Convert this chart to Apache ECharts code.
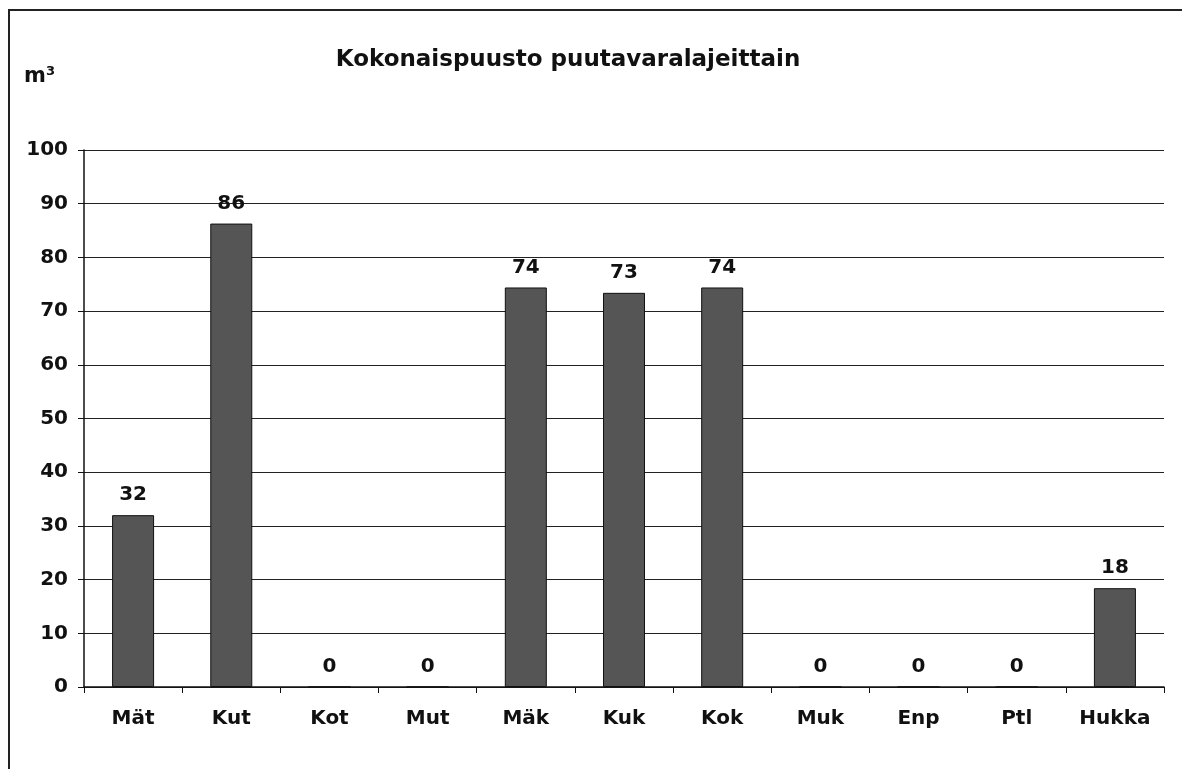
<!DOCTYPE html>
<html><head><meta charset="utf-8">
<script src="https://cdn.jsdelivr.net/npm/echarts@6/dist/echarts.min.js"></script>
<style>html,body{margin:0;padding:0;background:#fff}
#frame{position:absolute;left:8px;top:9px;width:1180px;height:765px;border-left:2px solid #222;border-top:2px solid #222;box-sizing:border-box}
#c{position:absolute;left:0;top:0;width:1182px;height:769px}</style>
</head><body><div id="frame"></div><div id="c"></div>
<script>
const categories = ['Mät','Kut','Kot','Mut','Mäk','Kuk','Kok','Muk','Enp','Ptl','Hukka'];
const values = [32.0, 86.3, 0, 0, 74.4, 73.4, 74.4, 0, 0, 0, 18.4];
const yTicks = [0,10,20,30,40,50,60,70,80,90,100];
const font = 'DejaVu Sans';
const chart = echarts.init(document.getElementById('c'));
chart.setOption({
  animation:false,
  title:{text:'Kokonaispuusto puutavaralajeittain',left:563,top:44,textAlign:'center',
    textStyle:{fontFamily:font,fontSize:23,fontWeight:'bold',color:'#111'}},
  graphic:[{type:'text',left:24,top:66,style:{text:'m³',font:'bold 21px "DejaVu Sans"',fill:'#111'}}],
  grid:{left:84,right:18,top:150,bottom:82},
  xAxis:{type:'category',data:categories,
    axisLine:{lineStyle:{color:'#111',width:1.5}},
    axisTick:{show:true,length:6,lineStyle:{color:'#111'}},
    axisLabel:{fontFamily:font,fontSize:20,fontWeight:'bold',color:'#111',margin:22}},
  yAxis:{type:'value',min:0,max:100,interval:10,
    axisLine:{show:true,lineStyle:{color:'#111',width:1.5}},
    axisTick:{show:true,length:6,inside:false,lineStyle:{color:'#111'}},
    splitLine:{lineStyle:{color:'#222',width:1}},
    axisLabel:{fontFamily:font,fontSize:20,fontWeight:'bold',color:'#111',margin:16,
      formatter:v=>yTicks.includes(v)?String(v):''}},
  series:[{type:'bar',data:values,barWidth:42,
    itemStyle:{color:'#555555',borderColor:'#111',borderWidth:1},
    label:{show:true,position:'top',distance:10,fontFamily:font,fontSize:20,fontWeight:'bold',color:'#111',
      formatter:p=>String(Math.round(p.value))}}]
});
</script></body></html>
